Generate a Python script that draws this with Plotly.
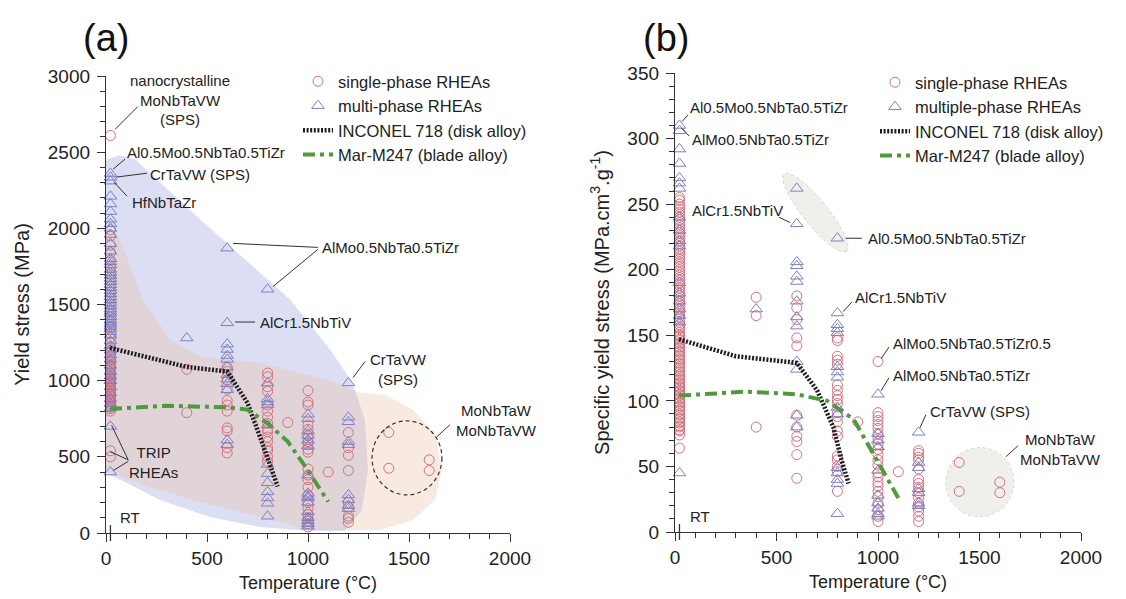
import numpy as np
import plotly.graph_objects as go

W, H = 1126, 599
FONT = "Liberation Sans"
RED = "#d4707c"
BLUE = "#7c80c4"

# ---------------- Panel (a): yield stress (MPa) ----------------
RT = 22
a_single_RT = [2610, 1990, 1950, 1890, 1840, 1790, 1740, 1700, 1660, 1620, 1580, 1540, 1500, 1460,
               1420, 1390, 1350, 1310, 1280, 1250, 1220, 1200, 1190, 1170, 1160, 1140, 1130, 1110,
               1100, 1090, 1080, 1070, 1060, 1050, 1040, 1030, 1020, 1010, 1000, 990, 980, 970, 960,
               950, 940, 930, 920, 910, 900, 890, 880, 870, 860, 850, 840, 830, 825, 815, 800, 540, 500]
a_single_400 = [1075, 790]
a_single_600 = [1090, 1060, 1005, 945, 870, 840, 800, 690, 670, 560, 525]
a_single_800 = [1050, 1025, 960, 930, 840, 800, 760, 720, 680, 665, 630, 600, 560, 540, 500, 470]
a_single_900 = [725]
a_single_1000 = [935, 860, 840, 710, 680, 640, 600, 580, 550, 530, 420, 380, 350, 300, 250, 200,
                 160, 120, 100, 80, 60, 40]
a_single_1100 = [400]
a_single_1200 = [660, 560, 510, 410, 200, 170, 110, 95, 70]
a_single_1400 = [660, 425]
a_single_1600 = [480, 410]

a_multi_RT = [2360, 2335, 2310, 2210, 2160, 2110, 2060, 2030, 2000, 1960, 1900, 1850, 1800, 1780,
              1760, 1730, 1710, 1690, 1670, 1650, 1630, 1610, 1590, 1570, 1550, 1530, 1510, 1490,
              1470, 1455, 1440, 1420, 1400, 1385, 1370, 1355, 1340, 1320, 1300, 1260, 1230,
              1200, 1170, 1140, 1100, 1060, 1030, 1000, 960, 920, 880, 850, 820, 700, 400]
a_multi_400 = [1280]
a_multi_600 = [1870, 1380, 1240, 1205, 1165, 1140, 1090, 1040, 1010, 980, 940, 610, 580]
a_multi_800 = [1600, 985, 880, 860, 840, 710, 450, 390, 330, 270, 230, 195, 110]
a_multi_1000 = [780, 750, 670, 640, 610, 570, 380, 260, 240, 230, 200, 140, 100, 80, 60, 45]
a_multi_1200 = [985, 760, 730, 600, 580, 250, 220, 180, 160]

inconel_a_T = [20, 400, 600, 700, 760, 800, 850]
inconel_a_Y = [1215, 1090, 1060, 855, 640, 500, 305]
mar_a_T = [20, 300, 600, 700, 800, 900, 1000, 1100]
mar_a_Y = [815, 835, 825, 810, 720, 600, 410, 205]

# shaded envelopes (T, MPa)
blue_a_T = [0, 5, 69, 144, 465, 911, 1109, 1218, 1282, 1297, 1267, 1183, 1010, 762, 515, 267, 104, 10, 0]
blue_a_Y = [2440, 2454, 2480, 2454, 2059, 1533, 1204, 993, 743, 414, 151, 13, 13, 39, 105, 217, 329, 382, 390]
peach_a_T = [0, 5, 69, 183, 317, 465, 762, 1094, 1257, 1381, 1520, 1629, 1663, 1629, 1520, 1356,
             960, 926, 678, 431, 183, 20, 0]
peach_a_Y = [2000, 2007, 1928, 1533, 1270, 1158, 1118, 1007, 921, 908, 809, 645, 414, 217, 86, 20,
             20, 53, 132, 217, 316, 395, 414]

# ---------------- Panel (b): specific yield stress ----------------
b_single_RT = [255, 253, 250, 248, 246, 244, 242, 240, 238, 236, 234, 232, 230, 228, 226, 224, 222,
               220, 218, 216, 214, 212, 210, 208, 206, 204, 202, 200, 198, 196, 194, 192, 190, 188,
               186, 184, 182, 180, 178, 176, 174, 172, 170, 168, 166, 164, 162, 160, 158, 156, 155,
               152, 150, 149, 147, 146, 144, 143, 141, 140, 138, 137, 135, 134, 132, 131, 129, 128,
               126, 125, 123, 122, 120, 119, 117, 116, 114, 113, 111, 110, 108, 107, 105, 104, 102,
               101, 99, 98, 96, 95, 93, 92, 90, 89, 87, 86, 84, 83, 81, 80, 78, 77, 74, 64]
b_single_400 = [179, 165, 80]
b_single_600 = [180, 171, 162, 148, 142, 89, 80, 73, 69, 59, 41]
b_single_800 = [148, 146, 134, 131, 128, 112, 108, 104, 101, 98, 91, 88, 84, 77, 73, 58, 55, 50, 46, 31]
b_single_900 = [84]
b_single_1000 = [130, 91, 88, 85, 82, 79, 75, 71, 67, 63, 59, 55, 51, 45, 42, 38, 35, 31, 27, 22, 17, 12, 8]
b_single_1100 = [46]
b_single_1200 = [62, 60, 57, 55, 48, 40, 37, 34, 30, 26, 22, 19, 16, 12, 8]
b_single_1400 = [53, 31]
b_single_1600 = [38, 30]

b_multi_RT = [310, 306, 292, 281, 270, 266, 262, 240, 230, 222, 218, 190, 182, 176, 170, 165, 160, 45]
b_multi_400 = [170]
b_multi_600 = [262, 235, 206, 203, 195, 191, 176, 164, 157, 130, 124, 89, 80]
b_multi_800 = [224, 167, 158, 155, 152, 126, 122, 118, 95, 90, 49, 45, 40, 37, 14]
b_multi_1000 = [105, 75, 70, 65, 47, 28, 22, 18, 14, 12]
b_multi_1200 = [76, 53, 49, 33, 30, 22, 20]

inconel_b_T = [20, 300, 600, 700, 780, 820, 855]
inconel_b_Y = [147, 134, 129, 108, 80, 55, 37]
mar_b_T = [20, 350, 600, 750, 880, 1000, 1100]
mar_b_Y = [104, 107, 105, 100, 86, 54, 26]


def stack(groups):
    xs, ys = [], []
    for t, vals in groups:
        xs += [t] * len(vals)
        ys += list(vals)
    return xs, ys


aS_T, aS_Y = stack([(RT, a_single_RT), (400, a_single_400), (600, a_single_600), (800, a_single_800),
                    (900, a_single_900), (1000, a_single_1000), (1100, a_single_1100),
                    (1200, a_single_1200), (1400, a_single_1400), (1600, a_single_1600)])
aM_T, aM_Y = stack([(RT, a_multi_RT), (400, a_multi_400), (600, a_multi_600), (800, a_multi_800),
                    (1000, a_multi_1000), (1200, a_multi_1200)])
bS_T, bS_Y = stack([(RT, b_single_RT), (400, b_single_400), (600, b_single_600), (800, b_single_800),
                    (900, b_single_900), (1000, b_single_1000), (1100, b_single_1100),
                    (1200, b_single_1200), (1400, b_single_1400), (1600, b_single_1600)])
bM_T, bM_Y = stack([(RT, b_multi_RT), (400, b_multi_400), (600, b_multi_600), (800, b_multi_800),
                    (1000, b_multi_1000), (1200, b_multi_1200)])

# layout geometry (pixels)
AX_A = dict(x0=106, x1=510, y0=533, y1=76)
AX_B = dict(x0=675, x1=1081, y0=532, y1=73)
YMAX_A, YMAX_B = 3000, 350

# grey ellipse in (b): major axis end points (data) and half-width (px)
ell_p1 = (538, 273)
ell_p2 = (846, 214)
ell_halfwidth_px = 12.5
# grey circle in (b) and dashed circle in (a): center and radii (data units)
circ_b = dict(cx=1502, cy=38, rx=168, ry=26.5)
circ_a = dict(cx=1490, cy=493, rx=173, ry=243)

fig = go.Figure()

fig.add_trace(go.Scatter(x=blue_a_T, y=blue_a_Y, fill="toself", fillcolor="rgba(168,172,226,0.40)",
                         line=dict(width=0), mode="lines", hoverinfo="skip", showlegend=False,
                         xaxis="x", yaxis="y"))
fig.add_trace(go.Scatter(x=peach_a_T, y=peach_a_Y, fill="toself", fillcolor="rgba(236,192,165,0.33)",
                         line=dict(width=0), mode="lines", hoverinfo="skip", showlegend=False,
                         xaxis="x", yaxis="y"))

# ellipse (b) computed in pixel space, converted to data
sx = (AX_B["x1"] - AX_B["x0"]) / 2000.0
sy = (AX_B["y0"] - AX_B["y1"]) / YMAX_B
p1 = np.array([ell_p1[0] * sx, ell_p1[1] * sy])
p2 = np.array([ell_p2[0] * sx, ell_p2[1] * sy])
c = (p1 + p2) / 2
u = (p2 - p1) / 2
a_len = np.linalg.norm(u)
u = u / a_len
v = np.array([-u[1], u[0]])
t = np.linspace(0, 2 * np.pi, 80)
pts = c[None, :] + np.outer(np.cos(t) * a_len, u) + np.outer(np.sin(t) * ell_halfwidth_px, v)
GREY_FILL = "rgba(214,214,206,0.38)"
GREY_EDGE = "rgba(200,200,192,0.7)"
fig.add_trace(go.Scatter(x=pts[:, 0] / sx, y=pts[:, 1] / sy, fill="toself", fillcolor=GREY_FILL,
                         line=dict(width=1, color=GREY_EDGE, dash="dot"),
                         mode="lines", hoverinfo="skip", showlegend=False, xaxis="x2", yaxis="y2"))
tt = np.linspace(0, 2 * np.pi, 80)
fig.add_trace(go.Scatter(x=circ_b["cx"] + circ_b["rx"] * np.cos(tt), y=circ_b["cy"] + circ_b["ry"] * np.sin(tt),
                         fill="toself", fillcolor=GREY_FILL,
                         line=dict(width=1, color=GREY_EDGE, dash="dot"),
                         mode="lines", hoverinfo="skip", showlegend=False, xaxis="x2", yaxis="y2"))

mk_c = dict(symbol="circle-open", size=10, color=RED, line=dict(width=1, color=RED))
mk_t = dict(symbol="triangle-up-open", size=11, color=BLUE, line=dict(width=1, color=BLUE))

fig.add_trace(go.Scatter(x=aS_T, y=aS_Y, mode="markers", marker=mk_c, name="single-phase RHEAs",
                         cliponaxis=False, xaxis="x", yaxis="y", legend="legend"))
fig.add_trace(go.Scatter(x=aM_T, y=aM_Y, mode="markers", marker=mk_t, name="multi-phase RHEAs",
                         cliponaxis=False, xaxis="x", yaxis="y", legend="legend"))
fig.add_trace(go.Scatter(x=inconel_a_T, y=inconel_a_Y, mode="lines", name="INCONEL 718 (disk alloy)",
                         line=dict(color="#1e1e1e", width=4.5, dash="2px,1.6px"),
                         xaxis="x", yaxis="y", legend="legend"))
fig.add_trace(go.Scatter(x=mar_a_T, y=mar_a_Y, mode="lines", name="Mar-M247 (blade alloy)",
                         line=dict(color="#4f9a3c", width=4, dash="12px,5px,4px,5px"),
                         xaxis="x", yaxis="y", legend="legend"))

fig.add_trace(go.Scatter(x=bS_T, y=bS_Y, mode="markers", marker=mk_c, name="single-phase RHEAs",
                         cliponaxis=False, xaxis="x2", yaxis="y2", legend="legend2"))
fig.add_trace(go.Scatter(x=bM_T, y=bM_Y, mode="markers", marker=mk_t, name="multiple-phase RHEAs",
                         cliponaxis=False, xaxis="x2", yaxis="y2", legend="legend2"))
fig.add_trace(go.Scatter(x=inconel_b_T, y=inconel_b_Y, mode="lines", name="INCONEL 718 (disk alloy)",
                         line=dict(color="#1e1e1e", width=4.5, dash="2px,1.6px"),
                         xaxis="x2", yaxis="y2", legend="legend2"))
fig.add_trace(go.Scatter(x=mar_b_T, y=mar_b_Y, mode="lines", name="Mar-M247 (blade alloy)",
                         line=dict(color="#4f9a3c", width=4, dash="12px,5px,4px,5px"),
                         xaxis="x2", yaxis="y2", legend="legend2"))

# ---- labels: (text, x, y, xanchor, [leader lines (x0,y0,x1,y1)]) ----
labels_a = [
    ("nanocrystalline<br>MoNbTaVW<br>(SPS)", 366, 2842, "center", [(158, 2800, 45, 2650)]),
    ("Al0.5Mo0.5NbTa0.5TiZr", 94, 2500, "left", [(94, 2454, 35, 2388)]),
    ("CrTaVW (SPS)", 208, 2355, "left", [(203, 2362, 50, 2336)]),
    ("HfNbTaZr", 119, 2171, "left", [(104, 2211, 40, 2303)]),
    ("AlMo0.5NbTa0.5TiZr", 1059, 1875, "left", [(1049, 1875, 629, 1901), (1049, 1862, 827, 1618)]),
    ("AlCr1.5NbTiV", 752, 1385, "left", [(639, 1385, 738, 1385)]),
    ("CrTaVW<br>(SPS)", 1450, 1072, "center", [(1282, 1125, 1223, 1020)]),
    ("MoNbTaW<br>MoNbTaVW", 1935, 737, "center", [(1703, 711, 1638, 632)]),
    ("TRIP<br>RHEAs", 233, 461, "center", [(110, 480, 28, 706), (110, 480, 20, 535), (110, 470, 36, 410)]),
    ("RT", 60, 105, "left", []),
]
labels_b = [
    ("Al0.5Mo0.5NbTa0.5TiZr", 64, 324, "left", [(64, 318, 35, 313)]),
    ("AlMo0.5NbTa0.5TiZr", 74, 299, "left", [(69, 302, 34, 308)]),
    ("AlCr1.5NbTiV", 74, 245, "left", [(512, 240, 567, 236)]),
    ("Al0.5Mo0.5NbTa0.5TiZr", 941, 224, "left", [(842, 224, 921, 224)]),
    ("AlCr1.5NbTiV", 877, 178.5, "left", [(872, 175.5, 828, 168)]),
    ("AlMo0.5NbTa0.5TiZr0.5", 1064, 143.5, "left", [(1054, 141, 1015, 132)]),
    ("AlMo0.5NbTa0.5TiZr", 1064, 119, "left", [(1054, 117.6, 1015, 107.7)]),
    ("CrTaVW (SPS)", 1246, 91.7, "left", [(1236, 89.4, 1207, 79.5)]),
    ("MoNbTaW<br>MoNbTaVW", 1897, 62.7, "center", [(1690, 65.8, 1630, 57.4)]),
    ("RT", 64, 11.7, "left", []),
]

annotations = []
shapes = []
for labels, xr, yr in [(labels_a, "x", "y"), (labels_b, "x2", "y2")]:
    for text, x, y, xa, lines in labels:
        annotations.append(dict(text=text, x=x, y=y, xref=xr, yref=yr, xanchor=xa, yanchor="middle",
                                showarrow=False, font=dict(family=FONT, size=15, color="#222")))
        for (x0, y0, x1, y1) in lines:
            shapes.append(dict(type="line", xref=xr, yref=yr, x0=x0, y0=y0, x1=x1, y1=y1,
                               line=dict(color="#333", width=1)))

# dashed circle (a)
shapes.append(dict(type="circle", xref="x", yref="y",
                   x0=circ_a["cx"] - circ_a["rx"], x1=circ_a["cx"] + circ_a["rx"],
                   y0=circ_a["cy"] - circ_a["ry"], y1=circ_a["cy"] + circ_a["ry"],
                   line=dict(color="#333", width=1.2, dash="4px,3px")))
# RT ticks
for xr, ax in [("x", AX_A), ("x2", AX_B)]:
    shapes.append(dict(type="line", xref=xr, yref="paper", x0=RT, x1=RT,
                       y0=1 - (ax["y0"] + 8) / H, y1=1 - (ax["y0"] - 8) / H,
                       line=dict(color="#333", width=1.3)))

for txt, px in [("(a)", 106), ("(b)", 666)]:
    annotations.append(dict(text=txt, x=px / W, y=1 - 38 / H, xref="paper", yref="paper",
                            xanchor="center", yanchor="middle", showarrow=False,
                            font=dict(family=FONT, size=38, color="#111")))


def xaxis(ax, anchor, title):
    return dict(domain=[ax["x0"] / W, ax["x1"] / W], range=[0, 2000], anchor=anchor, automargin=False,
                tickvals=[0, 500, 1000, 1500, 2000], ticks="outside", ticklen=8, tickwidth=1.3,
                tickcolor="#333", showline=True, linecolor="#333", linewidth=1.3, showgrid=False,
                zeroline=False, tickfont=dict(family=FONT, size=19, color="#222"),
                minor=dict(dtick=100, ticks="outside", ticklen=5, tickcolor="#333", tickwidth=1),
                title=dict(text=title, font=dict(family=FONT, size=18, color="#222"), standoff=8))


def yaxis(ax, anchor, ymax, dtick, mdtick, title, standoff):
    return dict(domain=[1 - ax["y0"] / H, 1 - ax["y1"] / H], range=[0, ymax], anchor=anchor,
                automargin=False, ticklabelstandoff=3,
                dtick=dtick, ticks="outside", ticklen=8, tickwidth=1.3, tickcolor="#333",
                showline=True, linecolor="#333", linewidth=1.3, showgrid=False, zeroline=False,
                tickfont=dict(family=FONT, size=19, color="#222"),
                minor=dict(dtick=mdtick, ticks="outside", ticklen=5, tickcolor="#333", tickwidth=1),
                title=dict(text=title, font=dict(family=FONT, size=20, color="#222"), standoff=standoff))


legend_common = dict(xanchor="left", yanchor="top", bgcolor="rgba(0,0,0,0)",
                     font=dict(family=FONT, size=16.5, color="#222"), itemwidth=30, tracegroupgap=0)

fig.update_layout(
    width=W, height=H, margin=dict(l=0, r=0, t=0, b=0, autoexpand=False),
    paper_bgcolor="white", plot_bgcolor="rgba(0,0,0,0)",
    font=dict(family=FONT, color="#222"),
    xaxis=xaxis(AX_A, "y", "Temperature (°C)"),
    yaxis=yaxis(AX_A, "x", YMAX_A, 500, 100, "Yield stress (MPa)", 12),
    xaxis2=xaxis(AX_B, "y2", "Temperature (°C)"),
    yaxis2=yaxis(AX_B, "x2", YMAX_B, 50, 10,
                 "Specific yield stress (MPa.cm<sup>3</sup>.g<sup>-1</sup>)", 12),
    legend=dict(x=298 / W, y=1 - 64 / H, **legend_common),
    legend2=dict(x=875 / W, y=1 - 65 / H, **legend_common),
    annotations=annotations, shapes=shapes, showlegend=True,
)

fig.write_html("out.html")
